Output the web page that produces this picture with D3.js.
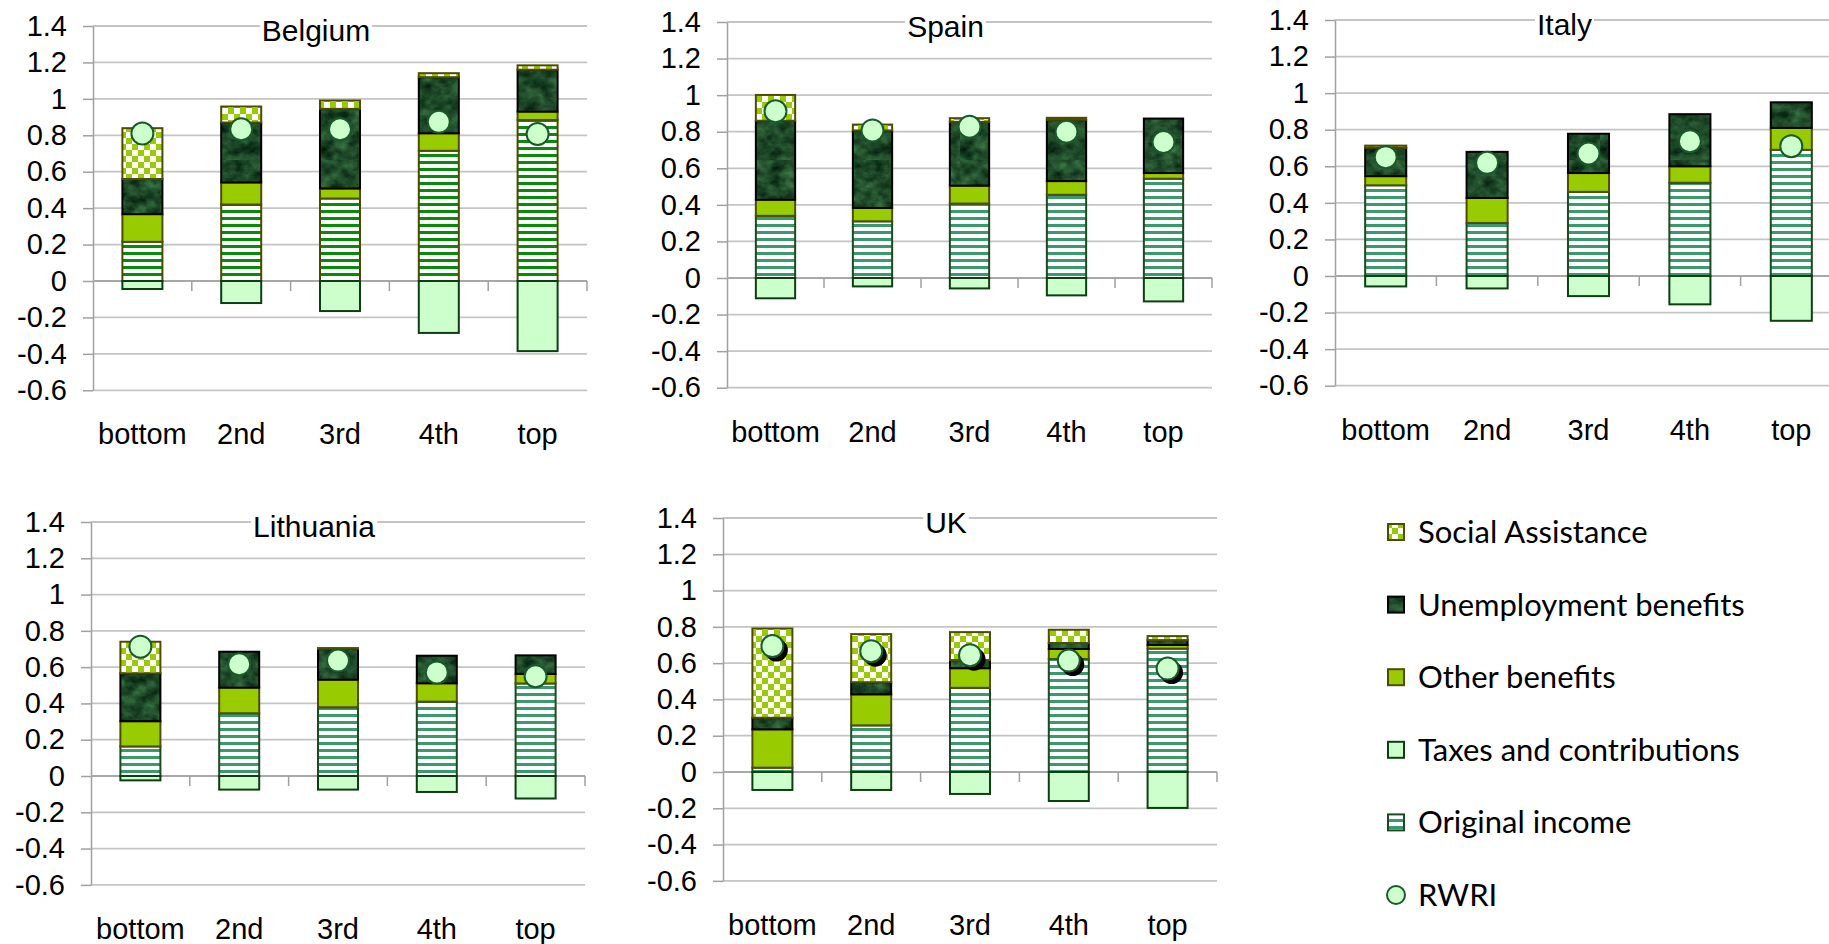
<!DOCTYPE html>
<html>
<head>
<meta charset="utf-8">
<script src="https://cdn.jsdelivr.net/npm/d3@7"></script>
<style>
body { margin: 0; background: #fff; }
svg { display: block; }
</style>
</head>
<body>
<div id="viz"></div>
<script>
var countries = ["Belgium", "Spain", "Italy", "Lithuania", "UK"];
var quintiles = ["bottom", "2nd", "3rd", "4th", "top"];
var yTicks = [-0.6, -0.4, -0.2, 0, 0.2, 0.4, 0.6, 0.8, 1, 1.2, 1.4];
var legendLabels = ["Social Assistance", "Unemployment benefits", "Other benefits",
                    "Taxes and contributions", "Original income", "RWRI"];

// one row per country, one value per quintile (bottom .. top)
var originalIncome = [
    [0.215, 0.42, 0.453, 0.715, 0.884],
    [0.34, 0.31, 0.407, 0.455, 0.543],
    [0.496, 0.29, 0.46, 0.51, 0.69],
    [0.163, 0.346, 0.379, 0.41, 0.51],
    [0.024, 0.257, 0.464, 0.623, 0.68]
];
var otherBenefits = [
    [0.152, 0.121, 0.055, 0.096, 0.046],
    [0.088, 0.073, 0.098, 0.075, 0.031],
    [0.05, 0.137, 0.103, 0.09, 0.12],
    [0.139, 0.141, 0.152, 0.101, 0.053],
    [0.211, 0.171, 0.108, 0.055, 0.02]
];
var unemploymentBenefits = [
    [0.193, 0.329, 0.437, 0.308, 0.23],
    [0.432, 0.424, 0.349, 0.335, 0.298],
    [0.155, 0.252, 0.215, 0.285, 0.14],
    [0.264, 0.198, 0.17, 0.152, 0.102],
    [0.064, 0.067, 0.045, 0.033, 0.027]
];
var socialAssistance = [
    [0.279, 0.088, 0.046, 0.022, 0.024],
    [0.141, 0.032, 0.02, 0.011, 0],
    [0.012, 0, 0, 0, 0],
    [0.174, 0, 0.004, 0, 0],
    [0.492, 0.265, 0.154, 0.073, 0.022]
];
var taxesContributions = [
    [-0.044, -0.121, -0.165, -0.285, -0.385],
    [-0.111, -0.046, -0.057, -0.095, -0.128],
    [-0.057, -0.068, -0.11, -0.155, -0.245],
    [-0.024, -0.075, -0.075, -0.088, -0.124],
    [-0.099, -0.099, -0.121, -0.16, -0.198]
];
var rwri = [
    [0.81, 0.833, 0.833, 0.874, 0.807],
    [0.912, 0.807, 0.827, 0.80, 0.744],
    [0.65, 0.619, 0.67, 0.737, 0.71],
    [0.713, 0.616, 0.636, 0.571, 0.55],
    [0.694, 0.666, 0.644, 0.614, 0.57]
];

// where each small chart sits on the page
var layout = [
    {x0: 93,   x1: 587,  top: 26,  zero: 281},
    {x0: 727,  x1: 1212, top: 22,  zero: 278},
    {x0: 1335, x1: 1842, top: 20,  zero: 276},
    {x0: 91,   x1: 585,  top: 522, zero: 776},
    {x0: 723,  x1: 1217, top: 518, zero: 772}
];

var axisFont = "'Liberation Sans', Arial, sans-serif";
var legendFont = "Lato, 'Open Sans', sans-serif";

var SVG = d3.select("#viz").append("svg")
    .attr("width", 1829)
    .attr("height", 944);

var defs = SVG.append("defs");

// marble texture for unemployment benefits
var marble = defs.append("filter").attr("id", "marbleTex")
    .attr("x", 0).attr("y", 0).attr("width", 1).attr("height", 1)
    .attr("color-interpolation-filters", "sRGB");
marble.append("feTurbulence")
    .attr("type", "fractalNoise").attr("baseFrequency", "0.07 0.09")
    .attr("numOctaves", 4).attr("seed", 7);
marble.append("feColorMatrix").attr("type", "matrix")
    .attr("values", "0.32 0 0 0 -0.04  0.5 0 0 0 0.04  0.32 0 0 0 0  0 0 0 0 1");
var mp = defs.append("pattern").attr("id", "marble")
    .attr("patternUnits", "userSpaceOnUse").attr("width", 160).attr("height", 160);
mp.append("rect").attr("width", 160).attr("height", 160)
    .attr("fill", "#174a26").attr("filter", "url(#marbleTex)");

// checkerboard for social assistance
var ck = defs.append("pattern").attr("id", "checker")
    .attr("patternUnits", "userSpaceOnUse").attr("width", 12).attr("height", 12);
ck.append("rect").attr("width", 12).attr("height", 12).attr("fill", "#fff");
ck.append("rect").attr("width", 6).attr("height", 6).attr("fill", "#99cc00");
ck.append("rect").attr("x", 6).attr("y", 6).attr("width", 6).attr("height", 6).attr("fill", "#99cc00");

// horizontal stripes for original income
function stripes(id, color) {
    var p = defs.append("pattern").attr("id", id)
        .attr("patternUnits", "userSpaceOnUse").attr("width", 8).attr("height", 7);
    p.append("rect").attr("width", 8).attr("height", 7).attr("fill", "#fff");
    p.append("rect").attr("width", 8).attr("height", 3).attr("fill", color);
}
stripes("stripesBE", "#0a8a0a");
stripes("stripes", "#3a9a6c");

function fmt(d) { return String(+d.toFixed(1)); }

function drawPanel(ci) {
    var p = layout[ci];
    var k = (p.zero - p.top) / 1.4;
    var y = d3.scaleLinear().domain([-0.6, 1.4]).range([p.zero + 0.6 * k, p.top]);
    var x = d3.scaleBand().domain(quintiles).range([p.x0, p.x1])
        .paddingInner(0.595).paddingOuter(0.2975);
    var g = SVG.append("g");

    // gridlines
    g.selectAll(".grid").data(yTicks).enter().append("line")
        .attr("x1", p.x0).attr("x2", p.x1)
        .attr("y1", function(d) { return y(d); })
        .attr("y2", function(d) { return y(d); })
        .style("stroke", "#c4c4c4").style("stroke-width", 1.8);

    // y axis
    var ax = g.append("g").attr("transform", "translate(" + p.x0 + ",0)")
        .call(d3.axisLeft(y).tickValues(yTicks).tickFormat(fmt)
              .tickSize(10).tickSizeOuter(0).tickPadding(16));
    ax.select(".domain").style("stroke", "#a0a0a0").style("stroke-width", 1.5);
    ax.selectAll(".tick line").style("stroke", "#a0a0a0").style("stroke-width", 1.5);
    ax.selectAll(".tick text").style("font-family", axisFont)
        .style("font-size", "29px").style("fill", "#000");

    // x axis at zero with category ticks
    g.append("line").attr("x1", p.x0).attr("x2", p.x1)
        .attr("y1", y(0)).attr("y2", y(0))
        .style("stroke", "#a8a8a8").style("stroke-width", 2.2);
    var step = x.step();
    g.selectAll(".xt").data(quintiles).enter().append("line")
        .attr("x1", function(d) { return x(d) - x.paddingOuter() * step + step; })
        .attr("x2", function(d) { return x(d) - x.paddingOuter() * step + step; })
        .attr("y1", y(0)).attr("y2", y(0) + 10)
        .style("stroke", "#a0a0a0").style("stroke-width", 1.5);

    // stacked segments
    var series = [
        {vals: originalIncome[ci], fill: ci === 0 ? "url(#stripesBE)" : "url(#stripes)",
         stroke: ci === 0 ? "#4a4a00" : "#1c4a22"},
        {vals: otherBenefits[ci], fill: "#99cc00", stroke: "#4d4d00"},
        {vals: unemploymentBenefits[ci], fill: "url(#marble)", stroke: "#000"},
        {vals: socialAssistance[ci], fill: "url(#checker)", stroke: "#4d4d00"}
    ];
    quintiles.forEach(function(q, qi) {
        var base = 0;
        series.forEach(function(s) {
            var v = s.vals[qi];
            if (v > 0) {
                g.append("rect")
                    .attr("x", x(q)).attr("width", x.bandwidth())
                    .attr("y", y(base + v)).attr("height", y(base) - y(base + v))
                    .style("fill", s.fill).style("stroke", s.stroke).style("stroke-width", 2);
            }
            base += v;
        });
        var t = taxesContributions[ci][qi];
        g.append("rect")
            .attr("x", x(q)).attr("width", x.bandwidth())
            .attr("y", y(0)).attr("height", y(t) - y(0))
            .style("fill", "#ccffcc").style("stroke", "#0d3d12").style("stroke-width", 2);
    });

    // RWRI markers (UK ones carry a shadow)
    var cx = function(d, i) { return x(quintiles[i]) + x.bandwidth() / 2; };
    if (countries[ci] === "UK") {
        g.selectAll(".shadow").data(rwri[ci]).enter().append("circle")
            .attr("cx", function(d, i) { return cx(d, i) + 4; })
            .attr("cy", function(d) { return y(d) + 4; })
            .attr("r", 11.5).style("fill", "#000");
    }
    g.selectAll(".dot").data(rwri[ci]).enter().append("circle")
        .attr("cx", cx).attr("cy", function(d) { return y(d); })
        .attr("r", 11).style("fill", "#ccffcc")
        .style("stroke", "#1a5a2a").style("stroke-width", 2);

    // category labels
    g.selectAll(".cat").data(quintiles).enter().append("text")
        .attr("x", function(d) { return x(d) + x.bandwidth() / 2; })
        .attr("y", y(-0.6) + 54)
        .attr("text-anchor", "middle")
        .style("font-family", axisFont).style("font-size", "29px")
        .text(function(d) { return d; });

    // title on a white box over the top gridline
    var tt = g.append("text")
        .attr("x", (p.x0 + p.x1) / 2 - 24).attr("y", p.top + 15)
        .attr("text-anchor", "middle")
        .style("font-family", axisFont).style("font-size", "30px")
        .text(countries[ci]);
    var bb = tt.node().getBBox();
    g.insert("rect", function() { return tt.node(); })
        .attr("x", bb.x - 2).attr("y", bb.y).attr("width", bb.width + 4).attr("height", bb.height)
        .style("fill", "#fff");
}

countries.forEach(function(c, i) { drawPanel(i); });

// legend
var legendFills = ["url(#checker)", "url(#marble)", "#99cc00", "#ccffcc", "url(#stripes)", null];
var legendStrokes = ["#4d4d00", "#000", "#4d4d00", "#0d3d12", "#1c4a22", "#1a5a2a"];
var leg = SVG.append("g");
legendLabels.forEach(function(lab, i) {
    var cy = 532 + i * 72.6;
    if (legendFills[i]) {
        leg.append("rect").attr("x", 1388).attr("y", cy - 8).attr("width", 16).attr("height", 16)
            .style("fill", legendFills[i]).style("stroke", legendStrokes[i]).style("stroke-width", 2);
    } else {
        leg.append("circle").attr("cx", 1396).attr("cy", cy).attr("r", 9)
            .style("fill", "#ccffcc").style("stroke", legendStrokes[i]).style("stroke-width", 2);
    }
    leg.append("text").attr("x", 1418).attr("y", cy + 11)
        .style("font-family", legendFont).style("font-size", "31px")
        .text(lab);
});
</script>
</body>
</html>
